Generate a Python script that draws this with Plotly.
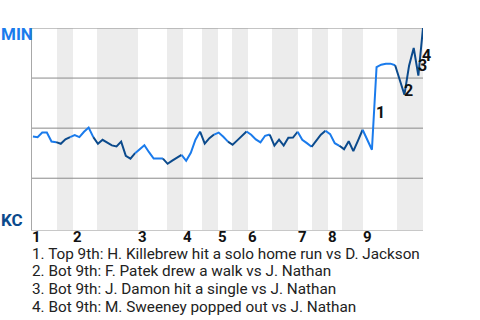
import plotly.graph_objects as go

# ---------------- data ----------------
team_top = "MIN"
team_bottom = "KC"
team_colors = {"MIN": "#1A7BEC", "KC": "#0B4A8C"}

events = list(range(85))
min_win_prob = [
    0.458, 0.455, 0.478, 0.478, 0.433, 0.430, 0.422, 0.444, 0.455, 0.465,
    0.455, 0.482, 0.503, 0.455, 0.422, 0.442, 0.427, 0.414, 0.409, 0.433,
    0.362, 0.348, 0.375, 0.395, 0.415, 0.380, 0.348, 0.348, 0.348, 0.322,
    0.338, 0.352, 0.367, 0.337, 0.377, 0.442, 0.483, 0.423, 0.450, 0.468,
    0.478, 0.457, 0.433, 0.417, 0.439, 0.460, 0.483, 0.467, 0.444, 0.429,
    0.462, 0.468, 0.413, 0.443, 0.413, 0.452, 0.453, 0.482, 0.442, 0.425,
    0.407, 0.437, 0.467, 0.487, 0.470, 0.425, 0.412, 0.395, 0.435, 0.385,
    0.438, 0.492, 0.442, 0.392, 0.805, 0.817, 0.822, 0.822, 0.814, 0.745,
    0.667, 0.812, 0.900, 0.762, 1.000,
]

# start of each half inning (top 1st, bot 1st, top 2nd, ...), in event units
half_starts = [-0.2, 5.18, 8.63, 13.8, 22.63, 28.87, 32.31, 36.41, 39.85,
               42.87, 46.31, 51.48, 57.08, 60.09, 63.54, 66.55, 71.07, 78.4]
game_end = 84.0
inning_labels = ["1", "2", "3", "4", "5", "6", "7", "8", "9"]

key_events = [74, 80, 83, 84]
key_texts = [
    "Top 9th: H. Killebrew hit a solo home run vs D. Jackson",
    "Bot 9th: F. Patek drew a walk vs J. Nathan",
    "Bot 9th: J. Damon hit a single vs J. Nathan",
    "Bot 9th: M. Sweeney popped out vs J. Nathan",
]
grid_levels = [0.25, 0.5, 0.75, 1.0]

# ---------------- figure ----------------
FONT = "Roboto, Arial, sans-serif"
fig = go.Figure()

bounds = half_starts + [game_end]
last = len(half_starts) - 1
shapes = []
for h in range(len(half_starts)):
    x0, x1 = bounds[h], bounds[h + 1]
    if h % 2 == 1:
        shapes.append(dict(type="rect", xref="x", yref="paper", x0=x0, x1=x1,
                           y0=0, y1=1, fillcolor="#ececec", line_width=0,
                           layer="below"))
    if h == last:
        idx = [i for i in events if x0 <= i <= x1]
    else:
        idx = [i for i in events if x0 <= i < x1]
    if not idx:
        continue
    if idx[0] > 0:
        idx = [idx[0] - 1] + idx
    color = team_colors[team_top] if h % 2 == 0 else team_colors[team_bottom]
    fig.add_trace(go.Scatter(x=idx, y=[min_win_prob[i] for i in idx],
                             mode="lines", line=dict(color=color, width=2),
                             hoverinfo="skip", showlegend=False))

for g in grid_levels:
    shapes.append(dict(type="line", xref="paper", yref="y", x0=0, x1=1,
                       y0=g, y1=g, line=dict(color="#8a8a8a", width=1),
                       layer="below"))

annotations = []
# team labels
annotations.append(dict(xref="paper", yref="paper", x=0, y=1, text="<b>%s</b>" % team_top,
                        showarrow=False, xanchor="left", yanchor="middle",
                        xshift=-31, yshift=-6, borderpad=0, borderwidth=0,
                        font=dict(family=FONT, size=17, color=team_colors[team_top])))
annotations.append(dict(xref="paper", yref="paper", x=0, y=0, text="<b>%s</b>" % team_bottom,
                        showarrow=False, xanchor="left", yanchor="middle",
                        xshift=-31, yshift=10.5, borderpad=0, borderwidth=0,
                        font=dict(family=FONT, size=17, color=team_colors[team_bottom])))
# inning labels
for k, lab in enumerate(inning_labels):
    annotations.append(dict(xref="x", yref="paper", x=half_starts[2 * k], y=0,
                            text="<b>%s</b>" % lab, showarrow=False,
                            xanchor="left", yanchor="middle", xshift=0, yshift=-6.5,
                            borderpad=0, borderwidth=0,
                            font=dict(family=FONT, size=15, color="#111111")))
# key event markers
for n, e in enumerate(key_events):
    annotations.append(dict(xref="x", yref="y", x=e - 0.5,
                            y=(min_win_prob[e - 1] + min_win_prob[e]) / 2,
                            text="<b>%d</b>" % (n + 1), showarrow=False,
                            xanchor="center", yanchor="middle",
                            xshift=6, yshift=-4, borderpad=0, borderwidth=0,
                            font=dict(family=FONT, size=16, color="#111111")))
# key event descriptions
for n, t in enumerate(key_texts):
    annotations.append(dict(xref="paper", yref="paper", x=0, y=0,
                            text="%d. %s" % (n + 1, t), showarrow=False,
                            xanchor="left", yanchor="middle",
                            xshift=0, yshift=-23.5 - 17.7 * n,
                            borderpad=0, borderwidth=0,
                            font=dict(family=FONT, size=15.3, color="#222222")))

fig.update_layout(
    width=480, height=320,
    margin=dict(l=32, r=57, t=28, b=90),
    paper_bgcolor="white", plot_bgcolor="white",
    showlegend=False,
    shapes=shapes, annotations=annotations,
    xaxis=dict(range=[-0.2, game_end], showgrid=False, zeroline=False,
               showticklabels=False, ticks="", showline=True,
               linecolor="#c8c8c8", linewidth=1, fixedrange=True),
    yaxis=dict(range=[-0.0085, 1], showgrid=False, zeroline=False,
               showticklabels=False, ticks="", showline=True,
               linecolor="#a8a8a8", linewidth=1, fixedrange=True),
)

fig.write_html("out.html", config={"displayModeBar": False})
